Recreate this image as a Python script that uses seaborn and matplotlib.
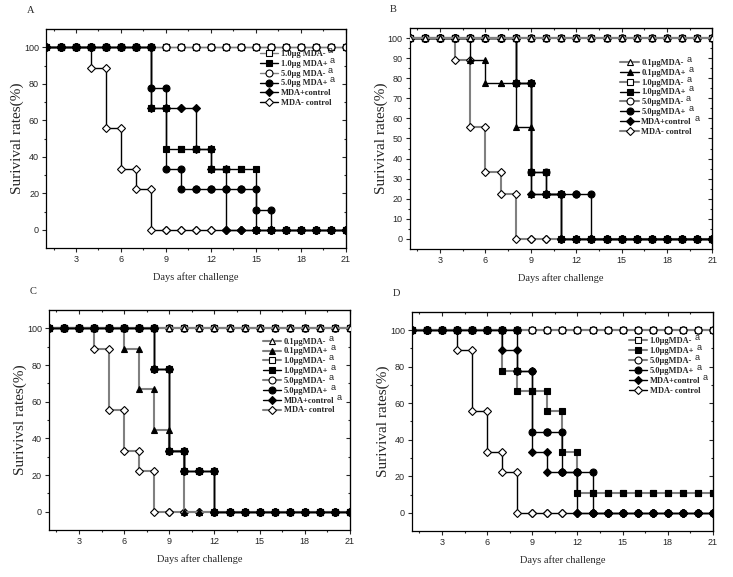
import matplotlib
matplotlib.use("Agg")
import matplotlib.pyplot as plt
import seaborn as sns
import pandas as pd

# survival (%) read per day, days 1..21
DAYS = [1, 2, 3, 4, 5, 6, 7, 8, 9, 10, 11, 12, 13, 14, 15, 16, 17, 18, 19, 20, 21]

ALL_100 = [100, 100, 100, 100, 100, 100, 100, 100, 100, 100, 100, 100, 100, 100, 100, 100, 100, 100, 100, 100, 100]
MDA_NEG_CTRL = [100, 100, 100, 88.9, 55.6, 33.3, 22.2, 0, 0, 0, 0, 0, 0, 0, 0, 0, 0, 0, 0, 0, 0]

# panel A
A_1_POS = [100, 100, 100, 100, 100, 100, 100, 66.7, 44.4, 44.4, 44.4, 33.3, 33.3, 33.3, 0, 0, 0, 0, 0, 0, 0]
A_5_POS = [100, 100, 100, 100, 100, 100, 100, 77.8, 33.3, 22.2, 22.2, 22.2, 22.2, 22.2, 11.1, 0, 0, 0, 0, 0, 0]
A_CTRL_POS = [100, 100, 100, 100, 100, 100, 100, 66.7, 66.7, 66.7, 44.4, 33.3, 0, 0, 0, 0, 0, 0, 0, 0, 0]

# panel B
B_01_POS = [100, 100, 100, 100, 88.9, 77.8, 77.8, 55.6, 22.2, 22.2, 0, 0, 0, 0, 0, 0, 0, 0, 0, 0, 0]
B_1_POS = [100, 100, 100, 100, 100, 100, 100, 77.8, 33.3, 22.2, 0, 0, 0, 0, 0, 0, 0, 0, 0, 0, 0]
B_5_POS = [100, 100, 100, 100, 100, 100, 100, 77.8, 33.3, 22.2, 22.2, 22.2, 0, 0, 0, 0, 0, 0, 0, 0, 0]
B_CTRL_POS = [100, 100, 100, 100, 100, 100, 100, 77.8, 22.2, 22.2, 0, 0, 0, 0, 0, 0, 0, 0, 0, 0, 0]

# panel C
C_01_POS = [100, 100, 100, 100, 100, 88.9, 66.7, 44.4, 33.3, 0, 0, 0, 0, 0, 0, 0, 0, 0, 0, 0, 0]
C_5_POS = [100, 100, 100, 100, 100, 100, 100, 77.8, 33.3, 22.2, 22.2, 0, 0, 0, 0, 0, 0, 0, 0, 0, 0]

# panel D
D_1_POS = [100, 100, 100, 100, 100, 100, 77.8, 66.7, 66.7, 55.6, 33.3, 11.1, 11.1, 11.1, 11.1, 11.1, 11.1, 11.1, 11.1, 11.1, 11.1]
D_5_POS = [100, 100, 100, 100, 100, 100, 100, 77.8, 44.4, 44.4, 22.2, 22.2, 0, 0, 0, 0, 0, 0, 0, 0, 0]
D_CTRL_POS = [100, 100, 100, 100, 100, 100, 88.9, 77.8, 33.3, 22.2, 22.2, 0, 0, 0, 0, 0, 0, 0, 0, 0, 0]

sns.set_style("ticks")
plt.rcParams["font.family"] = ["Liberation Serif", "DejaVu Serif"]

# marker style per group: (marker, filled)
STYLE = {
    "0.1-": ("^", False), "0.1+": ("^", True),
    "1.0-": ("s", False), "1.0+": ("s", True),
    "5.0-": ("o", False), "5.0+": ("o", True),
    "c+": ("D", True), "c-": ("D", False),
}


def step_frame(values):
    """expand per-day values into the step path (marker at both ends)"""
    xs, ys = [DAYS[0]], [values[0]]
    for i in range(1, len(DAYS)):
        xs += [DAYS[i], DAYS[i]]
        ys += [values[i - 1], values[i]]
    return pd.DataFrame({"day": xs, "rate": ys})


def draw_series(ax, values, key, label, z, lw=1.0, gray=False):
    marker, filled = STYLE[key]
    ms = 4.4 if marker == "D" else 5.0
    color = "#808080" if gray else "black"
    sns.lineplot(data=step_frame(values), x="day", y="rate", ax=ax,
                 estimator=None, sort=False, marker=marker, color=color,
                 markerfacecolor="black" if filled else "white",
                 markeredgecolor="black", markeredgewidth=0.8,
                 markersize=ms, linewidth=lw, label=label, zorder=z)


def style_axes(ax, ylim, yticks, yminor, ylabel, letter):
    ax.set_xlim(1, 21)
    ax.set_ylim(*ylim)
    ax.set_xticks([3, 6, 9, 12, 15, 18, 21])
    ax.set_xticks([1.5, 4.5, 7.5, 10.5, 13.5, 16.5, 19.5], minor=True)
    ax.set_yticks(yticks)
    ax.set_yticks(yminor, minor=True)
    for s in ax.spines.values():
        s.set_visible(True)
        s.set_linewidth(0.9)
        s.set_color("black")
    ax.tick_params(which="both", direction="out", top=False, right=False,
                   width=0.8, labelsize=6.5, pad=2)
    ax.tick_params(which="major", length=3)
    ax.tick_params(which="minor", length=1.6)
    for lab in ax.get_xticklabels() + ax.get_yticklabels():
        lab.set_fontfamily("Liberation Sans")
    sec_x = ax.secondary_xaxis("top")
    sec_x.set_xticks([3, 6, 9, 12, 15, 18, 21])
    sec_x.set_xticks([1.5, 4.5, 7.5, 10.5, 13.5, 16.5, 19.5], minor=True)
    sec_x.tick_params(which="both", direction="in", labeltop=False, width=0.8)
    sec_x.tick_params(which="major", length=3)
    sec_x.tick_params(which="minor", length=1.6)
    sec_y = ax.secondary_yaxis("right")
    sec_y.set_yticks(yticks)
    sec_y.set_yticks(yminor, minor=True)
    sec_y.tick_params(which="both", direction="in", labelright=False, width=0.8)
    sec_y.tick_params(which="major", length=3)
    sec_y.tick_params(which="minor", length=1.6)
    ax.set_xlabel("Days after challenge", fontsize=7.5, labelpad=6)
    ax.set_ylabel(ylabel, fontsize=11, labelpad=0)
    ax.text(-0.065, 1.085, letter, transform=ax.transAxes, fontsize=7.5,
            ha="left", va="center")


def add_legend(ax, x, y):
    handles, labels = ax.get_legend_handles_labels()
    return ax.legend(handles, labels, loc="upper left", bbox_to_anchor=(x, y),
                     frameon=False, handlelength=2.2,
                     handletextpad=0.3, labelspacing=0.22, borderpad=0,
                     borderaxespad=0, prop={"weight": "bold", "size": 6})


fig = plt.figure(figsize=(7.33, 5.77), dpi=100)
axA = fig.add_axes([0.0628, 0.570, 0.409, 0.3795])
axB = fig.add_axes([0.559, 0.5685, 0.413, 0.383])
axC = fig.add_axes([0.0668, 0.0815, 0.4106, 0.381])
axD = fig.add_axes([0.562, 0.0797, 0.4106, 0.3796])

# ---- A ----
draw_series(axA, ALL_100, "1.0-", "1.0μg MDA-", 2, gray=True)
draw_series(axA, A_1_POS, "1.0+", "1.0μg MDA+", 4)
draw_series(axA, ALL_100, "5.0-", "5.0μg MDA-", 2.5, gray=True)
draw_series(axA, A_5_POS, "5.0+", "5.0μg MDA+", 4.5)
draw_series(axA, A_CTRL_POS, "c+", "MDA+control", 4.2)
draw_series(axA, MDA_NEG_CTRL, "c-", "MDA- control", 3)
style_axes(axA, (-10, 110), [0, 20, 40, 60, 80, 100], [10, 30, 50, 70, 90],
           "Surivival rates(%)", "A")
legA = add_legend(axA, 0.713, 0.905)

# ---- B ----
draw_series(axB, ALL_100, "0.1-", "0.1μgMDA-", 5, lw=1.5, gray=True)
draw_series(axB, B_01_POS, "0.1+", "0.1μgMDA+", 3)
draw_series(axB, ALL_100, "1.0-", "1.0μgMDA-", 4.5, lw=1.5, gray=True)
draw_series(axB, B_1_POS, "1.0+", "1.0μgMDA+", 3.2)
draw_series(axB, ALL_100, "5.0-", "5.0μgMDA-", 4.8, lw=1.5, gray=True)
draw_series(axB, B_5_POS, "5.0+", "5.0μgMDA+", 3.4)
draw_series(axB, B_CTRL_POS, "c+", "MDA+control", 3.3)
draw_series(axB, MDA_NEG_CTRL, "c-", "MDA- control", 2.5, lw=1.5, gray=True)
style_axes(axB, (-5, 105), [0, 10, 20, 30, 40, 50, 60, 70, 80, 90, 100],
           [5, 15, 25, 35, 45, 55, 65, 75, 85, 95], "Surivival rates(%)", "B")
legB = add_legend(axB, 0.696, 0.86)

# ---- C ----
draw_series(axC, ALL_100, "0.1-", "0.1μgMDA-", 2.6, lw=1.5, gray=True)
draw_series(axC, C_01_POS, "0.1+", "0.1μgMDA+", 4, lw=1.5, gray=True)
draw_series(axC, ALL_100, "1.0-", "1.0μgMDA-", 2.2, lw=1.5, gray=True)
draw_series(axC, C_5_POS, "1.0+", "1.0μgMDA+", 4.2)
draw_series(axC, ALL_100, "5.0-", "5.0μgMDA-", 2.4, lw=1.5, gray=True)
draw_series(axC, C_5_POS, "5.0+", "5.0μgMDA+", 4.5)
draw_series(axC, C_5_POS, "c+", "MDA+control", 4.3)
draw_series(axC, MDA_NEG_CTRL, "c-", "MDA- control", 3, lw=1.5, gray=True)
style_axes(axC, (-10, 110), [0, 20, 40, 60, 80, 100], [10, 30, 50, 70, 90],
           "Surivivsl rates(%)", "C")
legC = add_legend(axC, 0.711, 0.875)

# ---- D ----
draw_series(axD, ALL_100, "1.0-", "1.0μgMDA-", 2, lw=1.5, gray=True)
draw_series(axD, D_1_POS, "1.0+", "1.0μgMDA+", 4, lw=1.5, gray=True)
draw_series(axD, ALL_100, "5.0-", "5.0μgMDA-", 2.5, lw=1.5, gray=True)
draw_series(axD, D_5_POS, "5.0+", "5.0μgMDA+", 4.5)
draw_series(axD, D_CTRL_POS, "c+", "MDA+control", 4.2)
draw_series(axD, MDA_NEG_CTRL, "c-", "MDA- control", 3)
style_axes(axD, (-10, 110), [0, 20, 40, 60, 80, 100], [10, 30, 50, 70, 90],
           "Surivival rates(%)", "D")
legD = add_legend(axD, 0.721, 0.884)

# superscript "a" beside the first legend entries of each panel
fig.canvas.draw()
W, H = fig.bbox.width, fig.bbox.height
for leg, n_sup in [(legA, 4), (legB, 7), (legC, 7), (legD, 5)]:
    for txt in leg.get_texts()[:n_sup]:
        bb = txt.get_window_extent()
        fig.text((bb.x1 + 2.5) / W, (bb.y1 - 0.5) / H, "a", ha="left",
                 va="center", fontsize=6.5, family="Liberation Sans")

fig.savefig("out.png", dpi=100, facecolor="white")
